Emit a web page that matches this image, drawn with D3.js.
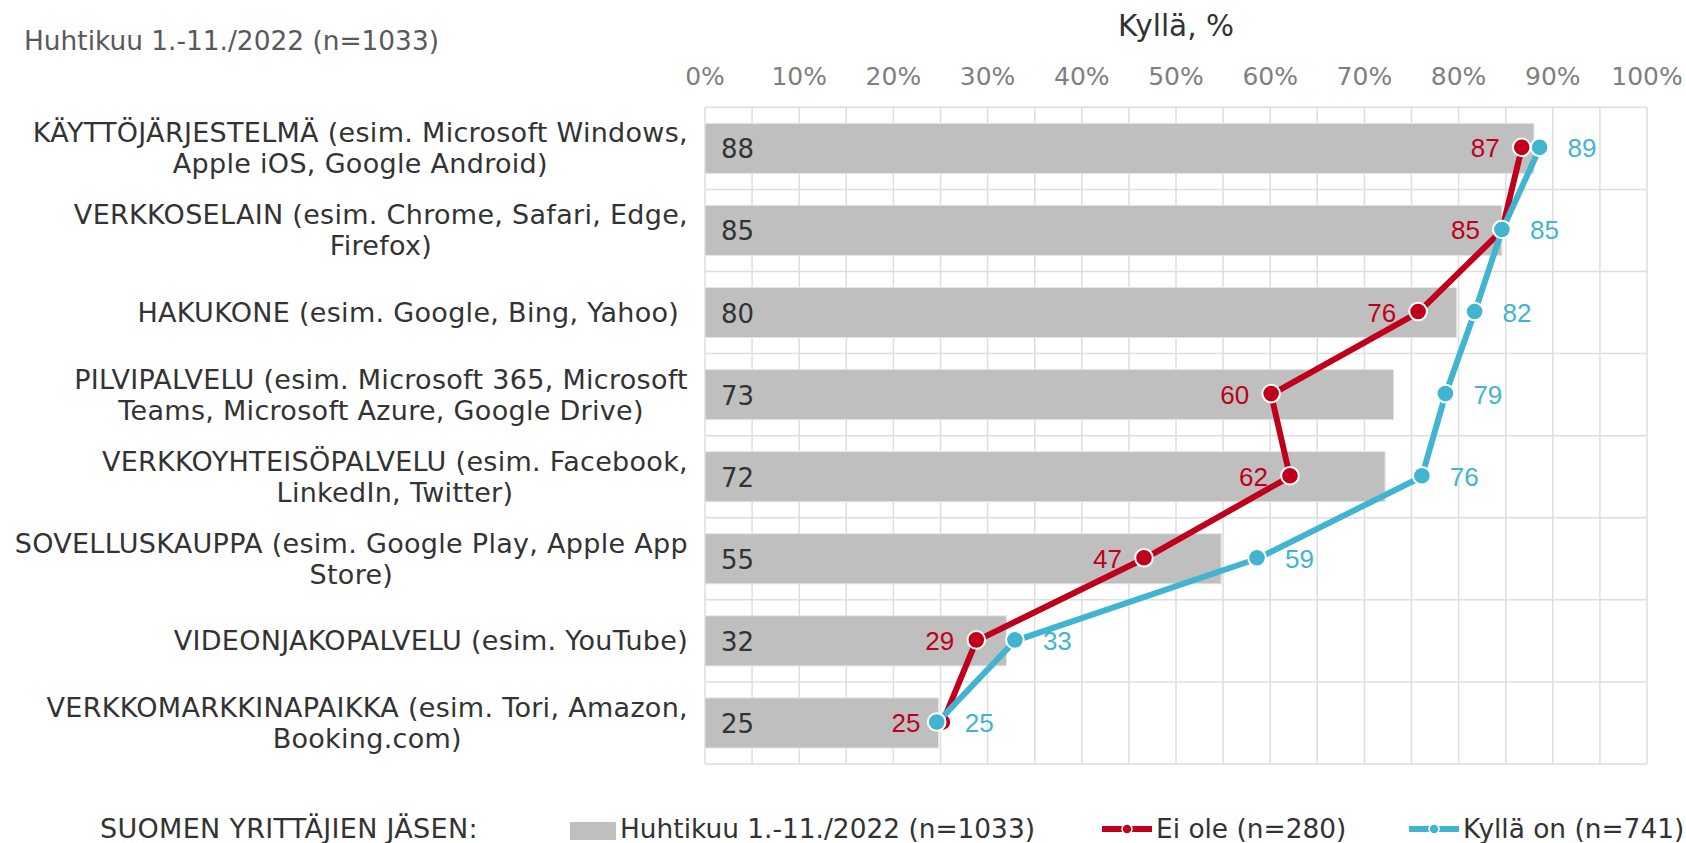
<!DOCTYPE html>
<html>
<head>
<meta charset="utf-8">
<script src="https://cdn.jsdelivr.net/npm/d3@7"></script>
<style>
body { margin: 0; background: #fff; }
text { font-family: "DejaVu Sans", Verdana, sans-serif; }
.val { font-family: "Liberation Sans", Arial, sans-serif; }
</style>
</head>
<body>
<svg width="1686" height="843"></svg>
<script>
// rows top to bottom, each label split into its wrapped lines
const categories = [
  ["KÄYTTÖJÄRJESTELMÄ (esim. Microsoft Windows,", "Apple iOS, Google Android)"],
  ["VERKKOSELAIN (esim. Chrome, Safari, Edge,", "Firefox)"],
  ["HAKUKONE (esim. Google, Bing, Yahoo)\u00a0"],
  ["PILVIPALVELU (esim. Microsoft 365, Microsoft", "Teams, Microsoft Azure, Google Drive)"],
  ["VERKKOYHTEISÖPALVELU (esim. Facebook,", "LinkedIn, Twitter)"],
  ["SOVELLUSKAUPPA (esim. Google Play, Apple App", "Store)"],
  ["VIDEONJAKOPALVELU (esim. YouTube)"],
  ["VERKKOMARKKINAPAIKKA (esim. Tori, Amazon,", "Booking.com)"]
];
const allAnswers = [88, 84.6, 79.8, 73.1, 72.2, 54.8, 32, 24.8];   // Huhtikuu 1.-11./2022 (n=1033)
const eiOle = [86.7, 84.6, 75.7, 60.1, 62.1, 46.6, 28.8, 25.2];     // Ei ole (n=280)
const kyllaOn = [88.6, 84.6, 81.7, 78.6, 76.1, 58.6, 32.9, 24.6];   // Kyllä on (n=741)
const xTicks = [0, 10, 20, 30, 40, 50, 60, 70, 80, 90, 100];
const gridTicks = d3.range(0, 101, 5);

const title = "Kyllä, %";
const subtitle = "Huhtikuu 1.-11./2022 (n=1033)";
const legendTitle = "SUOMEN YRITTÄJIEN JÄSEN:";

const red = "#c0001a";
const blue = "#41b4d0";
const grey = "#bfbfbf";

const svg = d3.select("svg");

const x = d3.scaleLinear().domain([0, 100]).range([705, 1647]);
const y = d3.scaleBand().domain(d3.range(categories.length)).range([107.3, 764]);
const bw = y.bandwidth();
const barH = bw * 0.61;
const cy = i => y(i) + bw / 2;

// grid
const grid = svg.append("g").attr("class", "grid");
grid.selectAll("line.v")
  .data(gridTicks)
  .enter()
  .append("line")
  .attr("x1", d => x(d)).attr("x2", d => x(d))
  .attr("y1", y.range()[0]).attr("y2", y.range()[1])
  .attr("stroke", "#dedede").attr("stroke-width", 1.5);
grid.selectAll("line.h")
  .data(d3.range(categories.length + 1))
  .enter()
  .append("line")
  .attr("x1", x(0)).attr("x2", x(100))
  .attr("y1", d => 107.3 + d * bw).attr("y2", d => 107.3 + d * bw)
  .attr("stroke", "#dedede").attr("stroke-width", 1.5);

// top axis labels
svg.append("g")
  .selectAll("text")
  .data(xTicks)
  .enter()
  .append("text")
  .attr("x", d => x(d))
  .attr("y", 76)
  .attr("text-anchor", "middle")
  .attr("dominant-baseline", "central")
  .attr("font-size", 25)
  .attr("fill", "#7f7f7f")
  .text(d => d + "%");

svg.append("text")
  .attr("x", (x(0) + x(100)) / 2)
  .attr("y", 26)
  .attr("text-anchor", "middle")
  .attr("dominant-baseline", "central")
  .attr("font-size", 29.5)
  .attr("fill", "#333")
  .text(title);

svg.append("text")
  .attr("x", 24)
  .attr("y", 40)
  .attr("dominant-baseline", "central")
  .attr("font-size", 26.4)
  .attr("fill", "#595959")
  .text(subtitle);

// bars
const bars = svg.append("g").attr("class", "bars")
  .selectAll("g")
  .data(allAnswers)
  .enter()
  .append("g");

bars.append("rect")
  .attr("x", x(0))
  .attr("y", (d, i) => cy(i) - barH / 2)
  .attr("width", d => x(d) - x(0))
  .attr("height", barH)
  .attr("fill", grey)
  .attr("stroke", "#e4e4e4")
  .attr("stroke-width", 1);

bars.append("text")
  .attr("x", x(0) + 16)
  .attr("y", (d, i) => cy(i) + 1)
  .attr("dominant-baseline", "central")
  .attr("font-size", 26)
  .attr("fill", "#333")
  .text(d => d3.format(".0f")(d));

// category labels, lines centred within a block that is right aligned
const labelRight = 688;
const lineGap = 31;
categories.forEach((lines, i) => {
  const g = svg.append("g");
  const texts = g.selectAll("text")
    .data(lines)
    .enter()
    .append("text")
    .attr("y", (d, k) => cy(i) + (k - (lines.length - 1) / 2) * lineGap)
    .attr("dominant-baseline", "central")
    .attr("text-anchor", "middle")
    .attr("font-size", 27)
    .attr("letter-spacing", 0.3)
    .attr("fill", "#333")
    .text(d => d);
  let maxW = 0;
  texts.each(function () { maxW = Math.max(maxW, this.getComputedTextLength()); });
  texts.attr("x", labelRight - maxW / 2);
});

// lines
const lineGen = d3.line()
  .x(d => x(d))
  .y((d, i) => cy(i));

function drawSeries(values, color, side) {
  const g = svg.append("g");
  g.append("path")
    .datum(values)
    .attr("d", lineGen)
    .attr("fill", "none")
    .attr("stroke", color)
    .attr("stroke-width", 6)
    .attr("stroke-linejoin", "round");
  g.selectAll("circle")
    .data(values)
    .enter()
    .append("circle")
    .attr("cx", d => x(d))
    .attr("cy", (d, i) => cy(i) - 1)
    .attr("r", 8.8)
    .attr("fill", color)
    .attr("stroke", "#fff")
    .attr("stroke-width", 2);
  g.selectAll("text")
    .data(values)
    .enter()
    .append("text")
    .attr("class", "val")
    .attr("x", d => side < 0 ? x(d) - 22 : x(d) + 28)
    .attr("y", (d, i) => cy(i))
    .attr("text-anchor", side < 0 ? "end" : "start")
    .attr("dominant-baseline", "central")
    .attr("font-size", 26)
    .attr("fill", color)
    .text(d => d3.format(".0f")(d));
}
drawSeries(eiOle, red, -1);
drawSeries(kyllaOn, blue, 1);

// legend
const legendY = 827;
svg.append("text")
  .attr("x", 100).attr("y", legendY + 1)
  .attr("dominant-baseline", "central")
  .attr("font-size", 27).attr("letter-spacing", 0.3).attr("fill", "#333")
  .text(legendTitle);

const legendItems = [
  { label: "Huhtikuu 1.-11./2022 (n=1033)", type: "bar", color: grey, x: 570 },
  { label: "Ei ole (n=280)", type: "line", color: red, x: 1102 },
  { label: "Kyllä on (n=741)", type: "line", color: blue, x: 1409 }
];
const leg = svg.append("g")
  .selectAll("g")
  .data(legendItems)
  .enter()
  .append("g")
  .attr("transform", d => `translate(${d.x}, ${legendY})`);

leg.filter(d => d.type === "bar")
  .append("rect")
  .attr("x", 0).attr("y", -5).attr("width", 46).attr("height", 18)
  .attr("fill", d => d.color);
leg.filter(d => d.type === "line")
  .append("line")
  .attr("x1", 0).attr("x2", 50).attr("y1", 2).attr("y2", 2)
  .attr("stroke", d => d.color).attr("stroke-width", 6);
leg.filter(d => d.type === "line")
  .append("circle")
  .attr("cx", 25).attr("cy", 2).attr("r", 5)
  .attr("fill", d => d.color).attr("stroke", "#fff").attr("stroke-width", 1.5);
leg.append("text")
  .attr("x", d => d.type === "bar" ? 50 : 54)
  .attr("y", 1)
  .attr("dominant-baseline", "central")
  .attr("font-size", 26.4).attr("fill", "#333")
  .text(d => d.label);
</script>
</body>
</html>
